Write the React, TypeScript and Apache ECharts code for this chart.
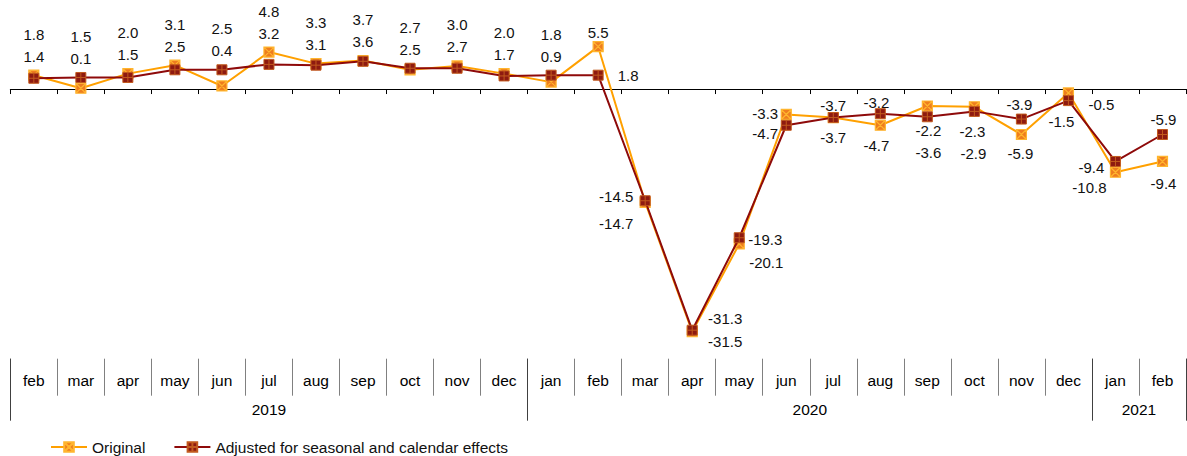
import React, { useEffect, useRef } from "react";
import * as echarts from "echarts";

const months = ["feb","mar","apr","may","jun","jul","aug","sep","oct","nov","dec","jan","feb","mar","apr","may","jun","jul","aug","sep","oct","nov","dec","jan","feb"];
const years = ["2019", "2020", "2021"];
const yearMonthCounts = [11, 12, 2];
const original = [1.8, 0.1, 2.0, 3.1, 0.4, 4.8, 3.3, 3.7, 2.5, 3.0, 2.0, 0.9, 5.5, -14.7, -31.5, -20.1, -3.3, -3.7, -4.7, -2.2, -2.3, -5.9, -0.5, -10.8, -9.4];
const adjusted = [1.4, 1.5, 1.5, 2.5, 2.5, 3.2, 3.1, 3.6, 2.7, 2.7, 1.7, 1.8, 1.8, -14.5, -31.3, -19.3, -4.7, -3.7, -3.2, -3.6, -2.9, -3.9, -1.5, -9.4, -5.9];
const seriesNames = ["Original", "Adjusted for seasonal and calendar effects"];

// label layout (pixel offsets from the point) for points from feb 2020 on
const origLabelOffsets: Record<number, [number, number]> = {
  12: [0, -14], 13: [-29, 21], 14: [33, 10], 15: [27, 19], 16: [-21, -1], 17: [0, 20],
  18: [-4, 20], 19: [1, 25], 20: [-2, 25], 21: [-1, 19], 22: [33, 12], 23: [-26, 15], 24: [1, 22],
};
const adjLabelOffsets: Record<number, [number, number]> = {
  12: [30, 0], 13: [-29, -4], 14: [33, -12], 15: [26, 2], 16: [-21, 8], 17: [0, -12],
  18: [-4, -11], 19: [1, 36], 20: [-1, 42], 21: [-2, -15], 22: [-7, 21], 23: [-24, 6], 24: [1, -15],
};

const FONT = "'Liberation Sans', Arial, sans-serif";
const W = 1187, H = 456;
const GRID_LEFT = 10.3, GRID_RIGHT = 1, GRID_TOP = 12, GRID_BOTTOM = 97.3;
const Y_MIN = -35, Y_MAX = 10;

export default function App() {
  const ref = useRef<HTMLDivElement>(null);
  useEffect(() => {
    if (!ref.current) return;
    const chart = echarts.init(ref.current, null, { renderer: "svg" });
    const ppu = (H - GRID_TOP - GRID_BOTTOM) / (Y_MAX - Y_MIN);

    // Before feb 2020 both labels sit stacked above the higher of the two points.
    const offsetFor = (i: number, isOrig: boolean): [number, number] => {
      const table = isOrig ? origLabelOffsets : adjLabelOffsets;
      if (table[i]) return table[i];
      const o = original[i], a = adjusted[i];
      const v = isOrig ? o : a;
      const other = isOrig ? a : o;
      const hi = Math.max(o, a);
      const larger = v > other || (v === other && !isOrig);
      return [0, -(hi - v) * ppu + (larger ? -41 : -19)];
    };

    const bounds: number[] = [0];
    const centers: number[] = [];
    yearMonthCounts.forEach((c) => {
      const start = bounds[bounds.length - 1];
      centers.push(start + c / 2);
      bounds.push(start + c);
    });

    const mkData = (vals: number[], isOrig: boolean) =>
      vals.map((v, i) => ({ value: v, label: { offset: offsetFor(i, isOrig) } }));

    const labelBase = {
      show: true,
      position: "inside",
      align: "center",
      verticalAlign: "middle",
      fontSize: 15,
      fontFamily: FONT,
      color: "#111",
      formatter: (p: any) => Number(p.value).toFixed(1),
    };

    const option: any = {
      animation: false,
      grid: { left: GRID_LEFT, right: GRID_RIGHT, top: GRID_TOP, bottom: GRID_BOTTOM, containLabel: false },
      legend: {
        left: 45,
        top: 434,
        itemWidth: 36,
        itemHeight: 12,
        itemGap: 28,
        textStyle: { fontSize: 15.5, fontFamily: FONT, color: "#111" },
        data: seriesNames,
      },
      xAxis: [
        {
          type: "category",
          data: months,
          boundaryGap: true,
          axisLine: { show: true, onZero: true, lineStyle: { color: "#000", width: 1 } },
          axisTick: { show: true, interval: 0, length: 5, lineStyle: { color: "#000" } },
          axisLabel: { show: false },
          splitLine: { show: false },
        },
        {
          type: "category",
          data: months,
          boundaryGap: true,
          position: "bottom",
          axisLine: { show: false, onZero: false },
          axisTick: { show: true, interval: 0, length: 37, lineStyle: { color: "#808080" } },
          axisLabel: { show: true, interval: 0, margin: 14, fontSize: 15.5, fontFamily: FONT, color: "#000" },
          splitLine: { show: false },
        },
        {
          type: "value",
          min: 0,
          max: bounds[bounds.length - 1],
          position: "bottom",
          axisLine: { show: false, onZero: false },
          axisTick: { show: true, customValues: bounds, length: 62, lineStyle: { color: "#404040" } },
          axisLabel: {
            show: true,
            customValues: centers,
            margin: 43,
            fontSize: 15.5,
            fontFamily: FONT,
            color: "#000",
            formatter: (v: number) => {
              const k = centers.findIndex((c) => Math.abs(c - v) < 1e-6);
              return k >= 0 ? years[k] : "";
            },
          },
          splitLine: { show: false },
        },
      ],
      yAxis: { type: "value", min: Y_MIN, max: Y_MAX, show: false, splitLine: { show: false } },
      series: [
        {
          name: seriesNames[0],
          type: "line",
          xAxisIndex: 0,
          data: mkData(original, true),
          symbol: "path://M0 0H10V10H0Z M0 0L10 10 M10 0L0 10",
          symbolSize: 10,
          lineStyle: { color: "#FFA000", width: 2 },
          itemStyle: { color: "#EE7D1F", borderColor: "#FFB52E", borderWidth: 1.2 },
          label: labelBase,
          z: 2,
        },
        {
          name: seriesNames[1],
          type: "line",
          xAxisIndex: 0,
          data: mkData(adjusted, false),
          symbol: "path://M0 0H10V10H0Z M5 0V10 M0 5H10",
          symbolSize: 10,
          lineStyle: { color: "#8E0A0A", width: 2 },
          itemStyle: { color: "#8E1A10", borderColor: "#C25A1E", borderWidth: 1 },
          label: labelBase,
          z: 3,
        },
      ],
    };
    chart.setOption(option);
    return () => chart.dispose();
  }, []);
  return <div ref={ref} style={{ position: "fixed", left: 0, top: 0, width: W, height: H, background: "#fff" }} />;
}
